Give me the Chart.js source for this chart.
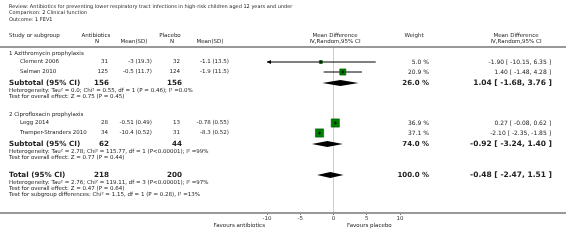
<!DOCTYPE html>
<html>
<head>
<meta charset="utf-8">
<script src="https://cdn.jsdelivr.net/npm/chart.js@4.4.1/dist/chart.umd.min.js"></script>
<style>
  body { margin: 0; background: #fff; }
  #wrap { position: relative; width: 566px; height: 248px; overflow: hidden; font-family: "DejaVu Sans", sans-serif; color: #222; }
  #forest { position: absolute; left: 0; top: 0; }
  .t { position: absolute; white-space: nowrap; line-height: 1; transform: translateY(-50%); }
</style>
</head>
<body>
<div id="wrap">
  <canvas id="forest" width="566" height="248"></canvas>
</div>
<script>
// Forest plot data
const studies = ['Clement 2006', 'Salman 2010', 'Legg 2014', 'Tramper-Stranders 2010'];
const studyGroup = [0, 0, 1, 1];
const nAntibiotics = [31, 125, 28, 34];
const meanAntibiotics = [-3, -0.5, -0.51, -10.4];
const sdAntibiotics = [19.3, 11.7, 0.49, 0.52];
const nPlacebo = [32, 124, 13, 31];
const meanPlacebo = [-1.1, -1.9, -0.78, -8.3];
const sdPlacebo = [13.5, 11.5, 0.55, 0.52];
const meanDiff = [-1.90, 1.40, 0.27, -2.10];
const ciLow = [-10.15, -1.48, -0.08, -2.35];
const ciHigh = [6.35, 4.28, 0.62, -1.85];
const weights = [5.0, 20.9, 36.9, 37.1];

const subgroups = ['1 Azithromycin prophylaxis', '2 Ciprofloxacin prophylaxis'];
const subNAntibiotics = [156, 62];
const subNPlacebo = [156, 44];
const subMeanDiff = [1.04, -0.92];
const subLow = [-1.68, -3.24];
const subHigh = [3.76, 1.40];
const subWeight = [26.0, 74.0];
const subStats = [
  ['Heterogeneity: Tau² = 0.0; Chi² = 0.55, df = 1 (P = 0.46); I² =0.0%', 'Test for overall effect: Z = 0.75 (P = 0.45)'],
  ['Heterogeneity: Tau² = 2.78; Chi² = 115.77, df = 1 (P<0.00001); I² =99%', 'Test for overall effect: Z = 0.77 (P = 0.44)']
];

const totalNAntibiotics = 218;
const totalNPlacebo = 200;
const totalMeanDiff = -0.48;
const totalLow = -2.47;
const totalHigh = 1.51;
const totalWeight = 100.0;
const totalStats = [
  'Heterogeneity: Tau² = 2.76; Chi² = 119.11, df = 3 (P<0.00001); I² =97%',
  'Test for overall effect: Z = 0.47 (P = 0.64)',
  'Test for subgroup differences: Chi² = 1.15, df = 1 (P = 0.28), I² =13%'
];

const xTicks = [-10, -5, 0, 5, 10];

// Layout: row offsets (px) below the header rule
const groupRow = [7, 68];
const studyRow = [15, 25, 76, 86];
const subRow = [36, 97];
const totalRow = 128;
const statGap = [7.5, 6];

const fmt2 = v => v.toFixed(2);
const ciText = (m, lo, hi) => `${fmt2(m)} [ ${fmt2(lo)}, ${fmt2(hi)} ]`;

const wrap = document.getElementById('wrap');
function addText(txt, x, y, opt = {}) {
  const s = document.createElement('span');
  s.className = 't';
  s.textContent = txt;
  s.style.fontSize = (opt.size || 5.5) + 'px';
  if (opt.bold) s.style.fontWeight = 'bold';
  s.style.top = y + 'px';
  if (opt.align === 'right') s.style.right = (566 - x) + 'px';
  else if (opt.align === 'center') { s.style.left = x + 'px'; s.style.transform = 'translate(-50%,-50%)'; }
  else s.style.left = x + 'px';
  wrap.appendChild(s);
}

const squareSide = w => Math.sqrt(w) * 1.35;

const forestExtras = {
  id: 'forestExtras',
  beforeDatasetsDraw(chart) {
    const { ctx, chartArea } = chart;
    ctx.save();
    ctx.fillStyle = '#999';
    ctx.fillRect(0, chartArea.top - 1, chart.width, 2);
    ctx.fillRect(0, chartArea.bottom - 1, chart.width, 2);
    ctx.restore();
  },
  afterDatasetsDraw(chart) {
    const { ctx } = chart;
    const xs = chart.scales.x, ys = chart.scales.y;
    ctx.save();
    ctx.fillStyle = '#000';
    // arrow for CI running past the axis
    ciLow.forEach((lo, i) => {
      if (lo < xs.min) {
        const px = xs.getPixelForValue(xs.min), py = ys.getPixelForValue(studyRow[i]);
        ctx.beginPath();
        ctx.moveTo(px, py);
        ctx.lineTo(px + 4, py - 2);
        ctx.lineTo(px + 4, py + 2);
        ctx.closePath();
        ctx.fill();
      }
    });
    const diamond = (m, lo, hi, row) => {
      const y = ys.getPixelForValue(row);
      ctx.beginPath();
      ctx.moveTo(xs.getPixelForValue(lo), y);
      ctx.lineTo(xs.getPixelForValue(m), y - 3);
      ctx.lineTo(xs.getPixelForValue(hi), y);
      ctx.lineTo(xs.getPixelForValue(m), y + 3);
      ctx.closePath();
      ctx.fill();
    };
    subMeanDiff.forEach((m, g) => diamond(m, subLow[g], subHigh[g], subRow[g]));
    diamond(totalMeanDiff, totalLow, totalHigh, totalRow);
    ctx.restore();
  }
};

const ciDatasets = studies.map((s, i) => ({
  type: 'line',
  data: [{ x: Math.max(ciLow[i], -10), y: studyRow[i] }, { x: Math.min(ciHigh[i], 10), y: studyRow[i] }],
  borderColor: '#000',
  borderWidth: 1,
  pointRadius: 0,
  order: 3
}));

const chart = new Chart(document.getElementById('forest'), {
  type: 'scatter',
  data: {
    datasets: [
      ...ciDatasets,
      {
        data: meanDiff.map((m, i) => ({ x: m, y: studyRow[i] })),
        pointStyle: 'rect',
        pointRadius: weights.map(w => squareSide(w) / Math.SQRT2),
        backgroundColor: '#008000',
        borderColor: '#005a00',
        borderWidth: 0.6,
        order: 2
      },
      {
        data: meanDiff.map((m, i) => ({ x: m, y: studyRow[i] })),
        pointStyle: 'cross',
        pointRadius: 1.6,
        borderColor: '#000',
        borderWidth: 0.8,
        order: 1
      }
    ]
  },
  options: {
    responsive: false,
    animation: false,
    events: [],
    layout: { padding: { left: 267, right: 166, top: 47, bottom: 0 } },
    plugins: { legend: { display: false }, tooltip: { enabled: false } },
    scales: {
      x: {
        type: 'linear',
        min: -10,
        max: 10,
        afterBuildTicks: scale => { scale.ticks = xTicks.map(v => ({ value: v })); },
        afterFit: scale => { scale.height = 35; },
        ticks: { font: { family: 'DejaVu Sans', size: 5.5 }, color: '#333', padding: 0, maxRotation: 0 },
        grid: {
          drawOnChartArea: true,
          color: c => (c.tick && c.tick.value === 0 ? '#ccc' : 'rgba(0,0,0,0)'),
          tickColor: '#777',
          tickLength: 2,
          lineWidth: 1
        },
        border: { color: '#999', width: 2 }
      },
      y: { type: 'linear', min: 0, max: 166, reverse: true, display: false }
    }
  },
  plugins: [forestExtras]
});

// Text columns
const ys = chart.scales.y;
const rowY = r => ys.getPixelForValue(r);

addText('Review:  Antibiotics for preventing lower respiratory tract infections in high-risk children aged 12 years and under', 9, 5.5, { size: 5 });
addText('Comparison:  2 Clinical function', 9, 12, { size: 5 });
addText('Outcome:  1 FEV1', 9, 18.5, { size: 5 });

addText('Study or subgroup', 9, 35.5);
addText('Antibiotics', 96, 35.5, { align: 'center' });
addText('N', 97, 42, { align: 'center' });
addText('Mean(SD)', 134, 42, { align: 'center' });
addText('Placebo', 170, 35.5, { align: 'center' });
addText('N', 172, 42, { align: 'center' });
addText('Mean(SD)', 210, 42, { align: 'center' });
addText('Mean Difference', 335, 35.5, { align: 'center' });
addText('IV,Random,95% CI', 335, 41.5, { align: 'center' });
addText('Weight', 414, 35.5, { align: 'center' });
addText('Mean Difference', 516, 35.5, { align: 'center' });
addText('IV,Random,95% CI', 516, 41.5, { align: 'center' });

subgroups.forEach((g, gi) => {
  addText(g, 9, rowY(groupRow[gi]));
  studies.forEach((s, i) => {
    if (studyGroup[i] !== gi) return;
    const y = rowY(studyRow[i]);
    addText(s, 20, y);
    addText(String(nAntibiotics[i]), 108, y, { align: 'right' });
    addText(`${meanAntibiotics[i]} (${sdAntibiotics[i]})`, 152, y, { align: 'right' });
    addText(String(nPlacebo[i]), 180, y, { align: 'right' });
    addText(`${meanPlacebo[i]} (${sdPlacebo[i]})`, 229, y, { align: 'right' });
    addText(weights[i].toFixed(1) + ' %', 429, y, { align: 'right', size: 6 });
    addText(ciText(meanDiff[i], ciLow[i], ciHigh[i]), 551, y, { align: 'right', size: 6 });
  });
  const sy = rowY(subRow[gi]);
  addText('Subtotal (95% CI)', 9, sy, { size: 7.2, bold: true });
  addText(String(subNAntibiotics[gi]), 109, sy, { align: 'right', size: 7.2, bold: true });
  addText(String(subNPlacebo[gi]), 182, sy, { align: 'right', size: 7.2, bold: true });
  addText(subWeight[gi].toFixed(1) + ' %', 429, sy, { align: 'right', size: 7, bold: true });
  addText(ciText(subMeanDiff[gi], subLow[gi], subHigh[gi]), 552, sy, { align: 'right', size: 7.5, bold: true });
  let r = subRow[gi] + statGap[0];
  subStats[gi].forEach(line => { addText(line, 9, rowY(r)); r += statGap[1]; });
});

const ty = rowY(totalRow);
addText('Total (95% CI)', 9, ty, { size: 7.2, bold: true });
addText(String(totalNAntibiotics), 109, ty, { align: 'right', size: 7.2, bold: true });
addText(String(totalNPlacebo), 182, ty, { align: 'right', size: 7.2, bold: true });
addText(totalWeight.toFixed(1) + ' %', 429, ty, { align: 'right', size: 7, bold: true });
addText(ciText(totalMeanDiff, totalLow, totalHigh), 552, ty, { align: 'right', size: 7.5, bold: true });
let tr = totalRow + statGap[0];
totalStats.forEach(line => { addText(line, 9, rowY(tr)); tr += statGap[1]; });

const ca = chart.chartArea;
addText('Favours antibiotics', 265, ca.bottom + 13, { align: 'right' });
addText('Favours placebo', 347, ca.bottom + 13);
</script>
</body>
</html>
